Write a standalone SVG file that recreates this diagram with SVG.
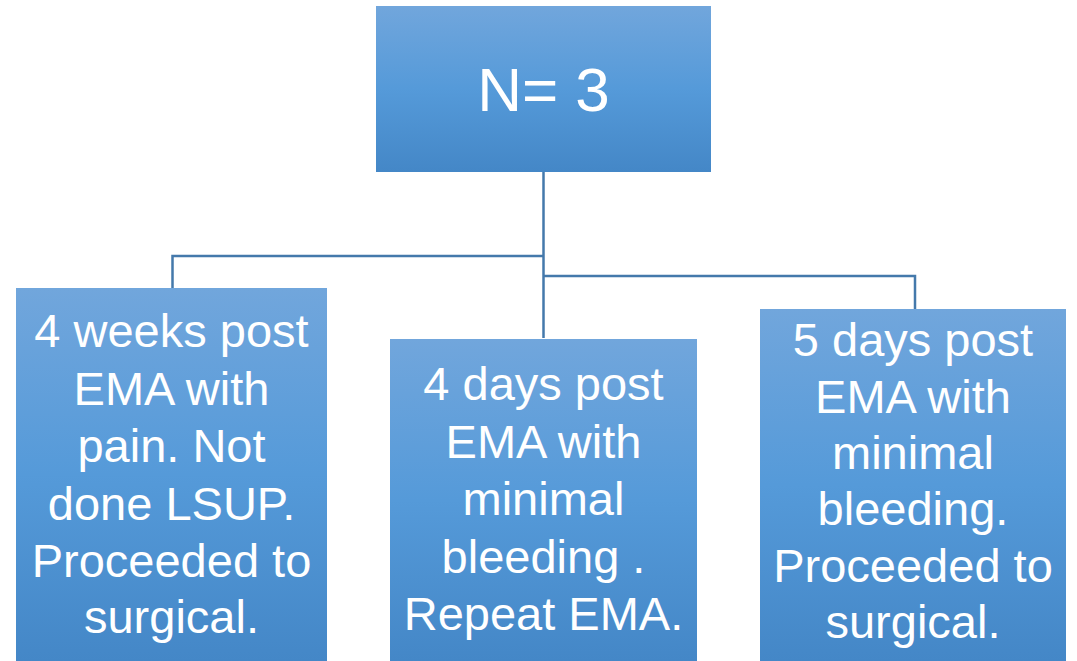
<svg xmlns="http://www.w3.org/2000/svg" width="1077" height="661" viewBox="0 0 1077 661">
<defs>
<linearGradient id="g" x1="0" y1="0" x2="0" y2="1">
<stop offset="0" stop-color="#71a6dc"/>
<stop offset="0.5" stop-color="#559ad9"/>
<stop offset="1" stop-color="#4487c7"/>
</linearGradient>
<style>
.box{fill:url(#g);}
.t{font-family:"Liberation Sans",Arial,sans-serif;font-size:47px;fill:#ffffff;text-anchor:middle;}
.c{fill:none;stroke:#4479ab;stroke-width:2.5;}
</style>
</defs>
<rect width="1077" height="661" fill="#ffffff"/>
<g id="connectors">
<path class="c" d="M543.5 172 V338"/>
<path class="c" d="M543.5 256 H172.5 V288"/>
<path class="c" d="M543.5 276 H915 V309"/>
</g>
<g id="root">
<rect class="box" x="376" y="6" width="335" height="166"/>
<text class="t" x="543.5" y="111" style="font-size:62px">N= 3</text>
</g>
<g id="left">
<rect class="box" x="16" y="288" width="311" height="373"/>
<text class="t" x="171.5" y="347">4 weeks post</text>
<text class="t" x="171.5" y="404.5">EMA with</text>
<text class="t" x="171.5" y="462">pain. Not</text>
<text class="t" x="171.5" y="519.5">done LSUP.</text>
<text class="t" x="171.5" y="577">Proceeded to</text>
<text class="t" x="171.5" y="633">surgical.</text>
</g>
<g id="middle">
<rect class="box" x="390" y="339" width="307" height="322"/>
<text class="t" x="543.5" y="400">4 days post</text>
<text class="t" x="543.5" y="457.5">EMA with</text>
<text class="t" x="543.5" y="515">minimal</text>
<text class="t" x="543.5" y="572.5">bleeding .</text>
<text class="t" x="543.5" y="630">Repeat EMA.</text>
</g>
<g id="right">
<rect class="box" x="760" y="309" width="306" height="352"/>
<text class="t" x="913" y="356">5 days post</text>
<text class="t" x="913" y="412.5">EMA with</text>
<text class="t" x="913" y="469">minimal</text>
<text class="t" x="913" y="525">bleeding.</text>
<text class="t" x="913" y="581.5">Proceeded to</text>
<text class="t" x="913" y="637.5">surgical.</text>
</g>
</svg>
